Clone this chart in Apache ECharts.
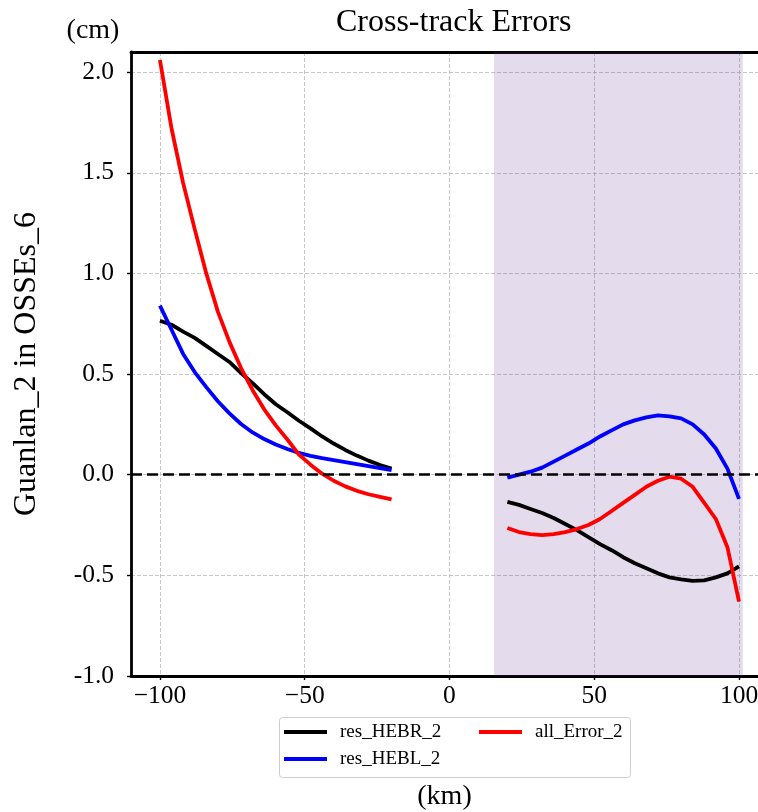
<!DOCTYPE html>
<html>
<head>
<meta charset="utf-8">
<script src="https://cdn.jsdelivr.net/npm/echarts@6/dist/echarts.min.js"></script>
<style>
  html, body { margin: 0; padding: 0; background: #fff; }
  #chart { width: 758px; height: 812px; }
</style>
</head>
<body>
<div id="chart"></div>
<script>
// Cross-track positions (km) for the two swaths
const kmLeft  = [-100, -96, -92, -88, -84, -80, -76, -72, -68, -64, -60, -56, -52, -48, -44, -40, -36, -32, -28, -24, -20];
const kmRight = [20, 24, 28, 32, 36, 40, 44, 48, 52, 56, 60, 64, 68, 72, 76, 80, 84, 88, 92, 96, 100];

// res_HEBR_2 (cm)
const hebrLeft  = [0.765, 0.745, 0.711, 0.68, 0.64, 0.60, 0.56, 0.505, 0.455, 0.40, 0.35, 0.31, 0.268, 0.23, 0.19, 0.155, 0.123, 0.095, 0.07, 0.048, 0.03];
const hebrRight = [-0.135, -0.15, -0.17, -0.19, -0.215, -0.245, -0.275, -0.31, -0.345, -0.375, -0.41, -0.44, -0.465, -0.49, -0.51, -0.52, -0.527, -0.525, -0.51, -0.49, -0.455];

// res_HEBL_2 (cm)
const heblLeft  = [0.84, 0.72, 0.60, 0.51, 0.435, 0.365, 0.305, 0.252, 0.21, 0.177, 0.15, 0.128, 0.108, 0.094, 0.082, 0.073, 0.063, 0.053, 0.043, 0.033, 0.023];
const heblRight = [-0.015, 0.0, 0.015, 0.035, 0.065, 0.095, 0.125, 0.155, 0.19, 0.22, 0.25, 0.27, 0.285, 0.295, 0.29, 0.28, 0.25, 0.20, 0.13, 0.03, -0.12];

// all_Error_2 (cm)
const errLeft  = [2.06, 1.72, 1.45, 1.22, 1.0, 0.81, 0.66, 0.53, 0.42, 0.325, 0.245, 0.175, 0.10, 0.05, 0.005, -0.03, -0.058, -0.08, -0.097, -0.11, -0.123];
const errRight = [-0.265, -0.285, -0.295, -0.30, -0.295, -0.285, -0.27, -0.25, -0.22, -0.18, -0.14, -0.10, -0.06, -0.03, -0.01, -0.02, -0.06, -0.14, -0.22, -0.36, -0.63];

// Axis ticks and the shaded swath
const xTicks = [-100, -50, 0, 50, 100];
const yTicks = [-1.0, -0.5, 0.0, 0.5, 1.0, 1.5, 2.0];
const shadeSpan = [15.4, 101.3];

const FONT = '"Liberation Serif", "Times New Roman", serif';
const zip = (xs, ys) => xs.map((x, i) => [x, ys[i]]);

function lineSeries(name, color, xs, ys, extra) {
  return Object.assign({
    name: name,
    type: 'line',
    data: zip(xs, ys),
    showSymbol: false,
    symbol: 'none',
    color: color,
    lineStyle: { color: color, width: 3.8 },
    z: 3
  }, extra || {});
}

const chart = echarts.init(document.getElementById('chart'), null, { renderer: 'canvas' });

const gridLine = { show: true, lineStyle: { color: '#b8b8b8', width: 0.8, type: [4, 2] } };

chart.setOption({
  animation: false,
  backgroundColor: '#fff',
  grid: { left: 131, right: 0, top: 52, bottom: 136, containLabel: false, outerBoundsMode: 'none' },
  xAxis: [{
    type: 'value',
    min: -110,
    max: 106.56,
    axisLine: { show: true, onZero: false, lineStyle: { color: '#000', width: 2.8 } },
    axisTick: { show: true, inside: false, length: 4, customValues: xTicks, lineStyle: { color: '#000', width: 1.4 } },
    axisLabel: {
      customValues: xTicks,
      margin: 7,
      color: '#000',
      fontFamily: FONT,
      fontSize: 25.5,
      formatter: v => (v < 0 ? '\u2212' + Math.abs(v) : String(v))
    },
    splitLine: gridLine
  }, {
    type: 'value',
    position: 'top',
    min: -110,
    max: 106.56,
    axisLine: { show: true, onZero: false, lineStyle: { color: '#000', width: 2.8 } },
    axisTick: { show: false },
    axisLabel: { show: false },
    splitLine: { show: false }
  }],
  yAxis: {
    type: 'value',
    min: -1.0,
    max: 2.1,
    axisLine: { show: true, onZero: false, lineStyle: { color: '#000', width: 2.8 } },
    axisTick: { show: true, inside: false, length: 4, customValues: yTicks, lineStyle: { color: '#000', width: 1.4 } },
    axisLabel: {
      customValues: yTicks,
      margin: 17,
      color: '#000',
      fontFamily: FONT,
      fontSize: 25.5,
      formatter: v => v.toFixed(1)
    },
    splitLine: gridLine
  },
  legend: [{
    data: ['res_HEBR_2', 'res_HEBL_2'],
    orient: 'vertical',
    left: 284,
    top: 722.5,
    padding: 0,
    itemGap: 8,
    itemWidth: 43,
    itemHeight: 4,
    icon: 'rect',
    selectedMode: false,
    textStyle: { fontFamily: FONT, fontSize: 19, lineHeight: 19, color: '#000', padding: [0, 0, 0, 8] }
  }, {
    data: ['all_Error_2'],
    orient: 'vertical',
    left: 479,
    top: 722.5,
    padding: 0,
    itemGap: 8,
    itemWidth: 43,
    itemHeight: 4,
    icon: 'rect',
    selectedMode: false,
    textStyle: { fontFamily: FONT, fontSize: 19, lineHeight: 19, color: '#000', padding: [0, 0, 0, 8] }
  }],
  graphic: [
    {
      type: 'rect', z: -1,
      shape: { x: 279.5, y: 717.5, width: 351, height: 60, r: 3 },
      style: { fill: '#fff', stroke: '#cfcfcf', lineWidth: 1 }
    },
    {
      type: 'text', x: 453.7, y: 23,
      style: { text: 'Cross-track Errors', fontFamily: FONT, fontSize: 32, fill: '#000', align: 'center', verticalAlign: 'middle' }
    },
    {
      type: 'text', x: 93, y: 31,
      style: { text: '(cm)', fontFamily: FONT, fontSize: 28, fill: '#000', align: 'center', verticalAlign: 'middle' }
    },
    {
      type: 'text', x: 444.5, y: 797,
      style: { text: '(km)', fontFamily: FONT, fontSize: 28, fill: '#000', align: 'center', verticalAlign: 'middle' }
    },
    {
      type: 'text', x: 27, y: 364, rotation: Math.PI / 2,
      style: { text: 'Guanlan_2 in OSSEs_6', fontFamily: FONT, fontSize: 32, fill: '#000', align: 'center', verticalAlign: 'middle' }
    }
  ],
  series: [
    lineSeries('res_HEBR_2', '#000000', kmLeft, hebrLeft, {
      markArea: {
        silent: true,
        itemStyle: { color: 'rgba(102, 51, 153, 0.175)' },
        data: [[{ xAxis: shadeSpan[0] }, { xAxis: shadeSpan[1] }]]
      },
      markLine: {
        silent: true,
        symbol: 'none',
        label: { show: false },
        lineStyle: { color: '#000', width: 2.5, type: [11, 5] },
        data: [{ yAxis: 0 }]
      }
    }),
    lineSeries('res_HEBR_2', '#000000', kmRight, hebrRight),
    lineSeries('res_HEBL_2', '#0000ff', kmLeft, heblLeft),
    lineSeries('res_HEBL_2', '#0000ff', kmRight, heblRight),
    lineSeries('all_Error_2', '#ff0000', kmLeft, errLeft),
    lineSeries('all_Error_2', '#ff0000', kmRight, errRight)
  ]
});
</script>
</body>
</html>
